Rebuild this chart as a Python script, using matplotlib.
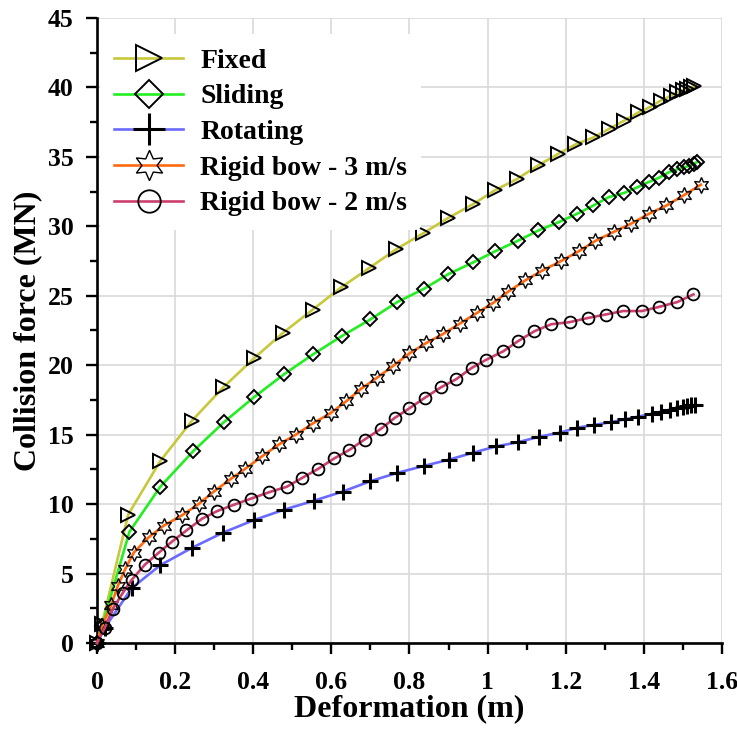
import numpy as np
import matplotlib.pyplot as plt

plt.rcParams['font.family'] = ['Liberation Serif', 'DejaVu Serif']
plt.rcParams['font.weight'] = 'bold'

# Fixed
fixed_x = [0, 0.013, 0.080, 0.162, 0.243, 0.323, 0.402, 0.477, 0.552, 0.625, 0.697, 0.766,
           0.835, 0.899, 0.963, 1.019, 1.075, 1.130, 1.180, 1.225, 1.271, 1.310, 1.349, 1.386,
           1.417, 1.443, 1.469, 1.486, 1.500, 1.511, 1.520, 1.529]
fixed_y = [0, 1.4, 9.25, 13.1, 16.0, 18.4, 20.5, 22.35, 24.0, 25.6, 27.0, 28.35,
           29.5, 30.6, 31.6, 32.6, 33.4, 34.4, 35.2, 35.9, 36.4, 37.0, 37.6, 38.2,
           38.6, 39.05, 39.4, 39.65, 39.8, 39.9, 40.0, 40.1]

# Sliding
sliding_x = [0, 0.013, 0.083, 0.162, 0.246, 0.325, 0.402, 0.479, 0.554, 0.627, 0.700, 0.769,
             0.837, 0.899, 0.963, 1.019, 1.077, 1.130, 1.182, 1.229, 1.271, 1.310, 1.349, 1.383,
             1.413, 1.439, 1.464, 1.486, 1.503, 1.516, 1.529, 1.537]
sliding_y = [0, 1.2, 8.0, 11.25, 13.8, 15.9, 17.7, 19.35, 20.8, 22.1, 23.3, 24.55,
             25.5, 26.55, 27.4, 28.2, 28.95, 29.7, 30.3, 30.9, 31.5, 32.1, 32.4, 32.8,
             33.2, 33.5, 33.9, 34.1, 34.25, 34.35, 34.5, 34.65]

# Rotating
rot_x = [0, 0.02, 0.089, 0.162, 0.243, 0.323, 0.402, 0.479, 0.556, 0.629, 0.700, 0.769,
         0.837, 0.901, 0.963, 1.021, 1.077, 1.132, 1.186, 1.229, 1.273, 1.315, 1.351, 1.386,
         1.420, 1.443, 1.466, 1.486, 1.500, 1.511, 1.522, 1.531]
rot_y = [0, 1.1, 3.95, 5.6, 6.85, 7.95, 8.85, 9.6, 10.25, 10.9, 11.65, 12.25,
         12.75, 13.2, 13.7, 14.15, 14.45, 14.85, 15.15, 15.5, 15.7, 15.9, 16.1, 16.3,
         16.5, 16.65, 16.8, 16.9, 17.0, 17.05, 17.1, 17.15]

# Rigid bow - 3 m/s
rb3_x = [0, 0.012, 0.036, 0.053, 0.072, 0.094, 0.132, 0.171, 0.218, 0.260, 0.299, 0.342,
         0.380, 0.423, 0.466, 0.509, 0.552, 0.598, 0.638, 0.676, 0.717, 0.758, 0.800, 0.843,
         0.886, 0.929, 0.972, 1.015, 1.053, 1.096, 1.139, 1.188, 1.233, 1.276, 1.323, 1.368,
         1.413, 1.458, 1.503, 1.546]
rb3_y = [0, 1.2, 2.7, 4.1, 5.3, 6.5, 7.6, 8.45, 9.2, 10.0, 10.9, 11.8,
         12.55, 13.45, 14.3, 15.0, 15.8, 16.55, 17.4, 18.3, 19.1, 19.95, 20.85, 21.6,
         22.25, 23.0, 23.75, 24.5, 25.3, 26.1, 26.8, 27.5, 28.2, 28.95, 29.6, 30.2,
         30.9, 31.5, 32.25, 33.0]

# Rigid bow - 2 m/s
rb2_x = [0, 0.02, 0.040, 0.066, 0.089, 0.123, 0.158, 0.192, 0.229, 0.269, 0.308, 0.350,
         0.395, 0.440, 0.486, 0.526, 0.567, 0.608, 0.646, 0.685, 0.726, 0.762, 0.800, 0.839,
         0.880, 0.920, 0.959, 0.997, 1.040, 1.079, 1.120, 1.163, 1.210, 1.257, 1.302, 1.347,
         1.395, 1.439, 1.486, 1.527]
rb2_y = [0, 1.1, 2.45, 3.6, 4.55, 5.65, 6.5, 7.3, 8.1, 8.95, 9.5, 9.95,
         10.4, 10.85, 11.25, 11.9, 12.55, 13.3, 13.9, 14.65, 15.4, 16.2, 16.9, 17.65,
         18.4, 19.0, 19.8, 20.4, 21.0, 21.75, 22.45, 22.95, 23.1, 23.4, 23.65, 23.9,
         23.9, 24.2, 24.55, 25.1]

fig = plt.figure(figsize=(7.37, 7.31), dpi=100)
ax = fig.add_axes([0.1316, 0.1204, 0.848, 0.855])

series = [
    (fixed_x, fixed_y, 'Fixed', '#c8c83c', '>', 9.5, 1.4),
    (sliding_x, sliding_y, 'Sliding', '#22ee22', 'D', 7.5, 1.4),
    (rot_x, rot_y, 'Rotating', '#6a6aff', '+', 12, 2.2),
    (rb3_x, rb3_y, 'Rigid bow - 3 m/s', '#ff6a10', (6, 1, 0), 11.5, 1.0),
    (rb2_x, rb2_y, 'Rigid bow - 2 m/s', '#cc3f6e', 'o', 8.5, 1.3),
]
for x, y, lab, col, mk, ms, mew in series:
    ax.plot(x, y, color=col, lw=1.9, marker=mk, ms=ms, mfc='none', mec='black',
            mew=mew, label=lab, clip_on=False, zorder=3)

ax.set_xlim(0, 1.6)
ax.set_ylim(0, 45)
ax.set_xticks(np.arange(0, 1.61, 0.2))
ax.set_xticklabels(['0', '0.2', '0.4', '0.6', '0.8', '1', '1.2', '1.4', '1.6'])
ax.set_yticks(np.arange(0, 46, 5))
ax.set_xticks(np.arange(0.1, 1.6, 0.2), minor=True)
ax.set_yticks(np.arange(2.5, 45, 5), minor=True)
ax.grid(True, which='major', color='#d9d9d9', lw=1.2, zorder=0)

for s in ['top', 'right']:
    ax.spines[s].set_visible(False)
for s in ['left', 'bottom']:
    ax.spines[s].set_linewidth(1.9)
ax.tick_params(which='major', direction='out', length=8, width=1.7, labelsize=18.5)
ax.tick_params(which='minor', direction='out', length=5, width=1.7)
ax.tick_params(axis='x', which='major', pad=12)
ax.tick_params(axis='y', which='major', pad=9)

ax.set_xlabel('Deformation (m)', fontsize=23, fontweight='bold', labelpad=0)
ax.set_ylabel('Collision force (MN)', fontsize=23, fontweight='bold', labelpad=4)

leg = ax.legend(loc='upper left', bbox_to_anchor=(0.005, 0.974), fontsize=20,
                frameon=True, markerscale=1.9, handlelength=2.5, labelspacing=0.37,
                borderaxespad=0, handletextpad=0.6, borderpad=0.5)
leg.get_frame().set_edgecolor('none')
leg.get_frame().set_facecolor('white')
leg.get_frame().set_alpha(1)
for t in leg.get_texts():
    t.set_fontweight('bold')

plt.savefig('out.png', dpi=100)
